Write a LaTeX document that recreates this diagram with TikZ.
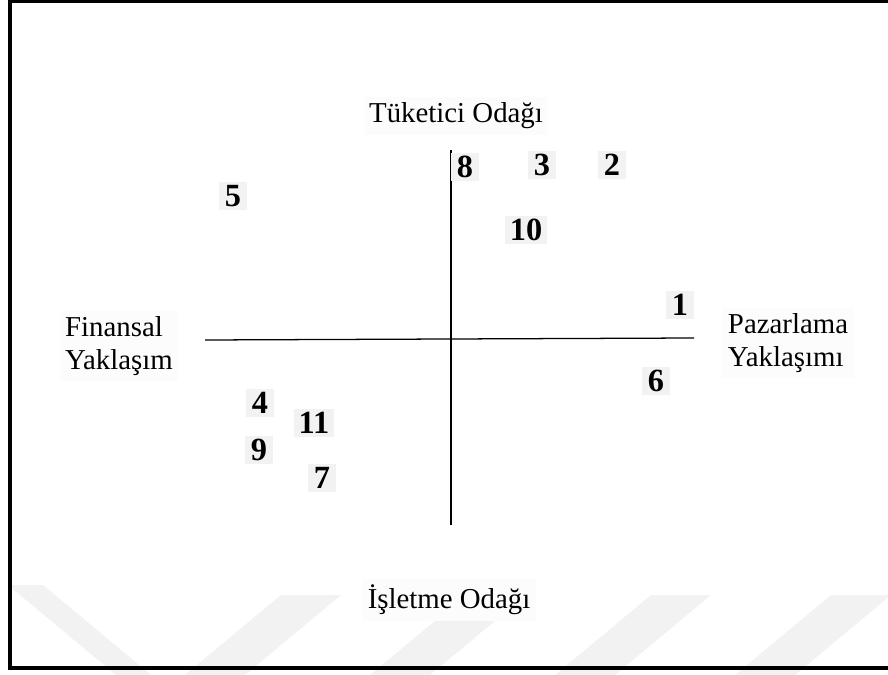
\documentclass[tikz,border=0pt]{standalone}
\usepackage{fontspec}
\setmainfont{Liberation Serif}
\newfontfamily\timesfont{Liberation Serif}
\usetikzlibrary{positioning}
\definecolor{ink}{RGB}{0,0,0}
\definecolor{chip}{RGB}{242,242,242}
\definecolor{paper}{RGB}{252,252,252}
\definecolor{wmark}{RGB}{242,242,242}
\tikzset{
  lbl/.style={fill=paper,inner sep=4pt,font=\timesfont\fontsize{20.5}{23.6}\selectfont},
  num/.style={fill=chip,inner xsep=0.125cm,inner ysep=0pt,minimum height=0.72cm,
    minimum width=0.7cm,font=\timesfont\fontsize{23}{26}\selectfont\bfseries},
  axis/.style={draw=ink,line width=0.9pt},
  frame/.style={draw=ink,line width=2.2pt},
}

\begin{document}
\begin{tikzpicture}[x=0.025cm,y=-0.025cm]
  \clip (0,0) rectangle (888,675);
  % faint watermark stripes
  \fill[wmark] (8,585)--(43,585)--(151,675)--(116,675)--cycle;
  \foreach \s in {185,370,555,735}
    \fill[wmark] (\s,675)--(\s+60,675)--(\s+156,595)--(\s+96,595)--cycle;
  % frame
  \draw[frame] (900,1)--(10,1)--(10,668)--(900,668);

  % axes
  \coordinate (ytop) at (451,150);
  \coordinate (ybot) at (451,525);
  \coordinate (xlft) at (205,340);
  \coordinate (xrgt) at (694,338);
  \draw[axis] (ytop)--(ybot);
  \draw[axis] (xlft)--(xrgt);

  % pole labels
  \node[lbl] (tuketici) at (456,116) {Tüketici Odağı};
  \node[lbl] (isletme) at (449,600) {İşletme Odağı};
  \node[lbl,align=left] (finansal) at (119,346) {Finansal\\Yaklaşım};
  \node[lbl,align=left] (pazarlama) at (788,343) {Pazarlama\\Yaklaşımı};

  % numbered items
  \node[num] (n8) at (465,167) {8};
  \node[num] (n3) at (542,165) {3};
  \node[num] (n2) at (612,165) {2};
  \node[num] (n10) at (526,230) {10};
  \node[num] (n5) at (233,196) {5};
  \node[num] (n1) at (680,305) {1};
  \node[num] (n6) at (656,381) {6};
  \node[num] (n4) at (260,403) {4};
  \node[num] (n11) at (314,423) {11};
  \node[num] (n9) at (259,450) {9};
  \node[num] (n7) at (322,478) {7};
\end{tikzpicture}
\end{document}
